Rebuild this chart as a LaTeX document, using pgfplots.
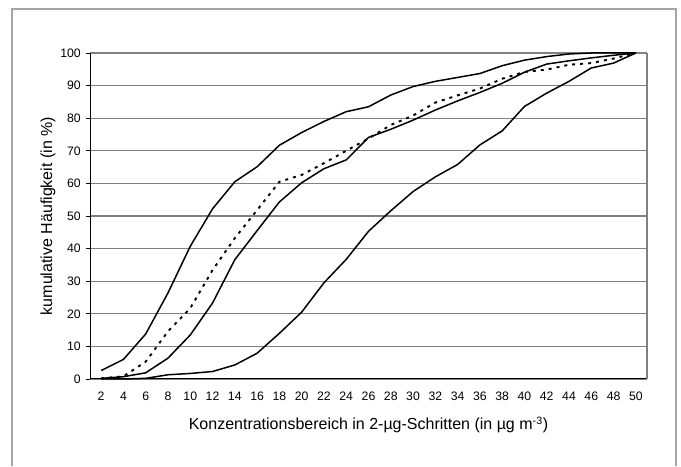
\documentclass[border=0pt]{standalone}
\usepackage{fontspec}
\setmainfont{Liberation Sans}
\usepackage{pgfplots}
\usepackage{pgfplotstable}
\pgfplotsset{compat=1.18}

\definecolor{gridgray}{RGB}{128,128,128}
\definecolor{framegray}{RGB}{165,165,165}
\newlength{\px}
\setlength{\px}{0.75pt}

% cumulative frequency (%) per 2-ug concentration step
\pgfplotstableread{
x   a     d     b     c
2   2.6   0.2   0.2   0.0
4   6.0   0.8   0.7   0.0
6   13.8  5.3   1.9   0.2
8   26.4  14.6  6.4   1.3
10  40.7  21.7  13.5  1.7
12  52.2  33.4  23.3  2.3
14  60.5  43.2  36.6  4.3
16  65.1  51.8  45.5  7.9
18  71.7  60.5  54.3  14.0
20  75.6  62.6  60.2  20.5
22  79.0  66.2  64.5  29.5
24  82.0  70.0  67.2  36.7
26  83.5  73.8  74.1  45.3
28  87.1  77.9  76.6  51.6
30  89.7  80.8  79.4  57.5
32  91.3  84.8  82.5  62.0
34  92.5  87.0  85.3  65.8
36  93.7  89.1  87.9  71.8
38  96.1  92.1  90.7  76.1
40  97.8  94.2  94.1  83.6
42  98.9  94.9  96.6  87.7
44  99.7  96.4  97.6  91.3
46  100   96.9  98.5  95.4
48  100   98.3  99.3  96.9
50  100   100   100   100
}\data

\begin{document}
\begin{tikzpicture}
\path (0,0) rectangle (681\px,466\px);
\draw[framegray, line width=1.2\px] (12\px,0) -- (12\px,457\px) -- (676\px,457\px) -- (676\px,0);
\begin{axis}[
    at={(90\px,87\px)}, anchor=south west,
    scale only axis,
    width=557\px, height=326\px,
    xmin=1, xmax=51,
    ymin=0, ymax=100,
    separate axis lines,
    axis x line*=bottom,
    axis y line*=left,
    axis line style={black, line width=1\px},
    xtick={2,4,...,50},
    minor xtick={1,3,...,51},
    ytick={0,10,...,100},
    tick align=outside,
    major tick length=4.5\px,
    minor tick length=5\px,
    xtick style={draw=none},
    minor x tick style={black, line width=0.8\px},
    ytick style={black, line width=0.8\px},
    ymajorgrids,
    major grid style={gridgray, line width=1.2\px},
    extra x ticks={51},
    extra x tick labels={},
    extra x tick style={grid=major, major grid style={gridgray, line width=1.2\px}, tick style={draw=none}},
    /pgf/number format/assume math mode=true,
    ticklabel style={font=\fontsize{9.2}{11}\selectfont},
    xticklabel style={yshift=-4\px},
    xlabel={Konzentrationsbereich in 2-µg-Schritten (in µg m\textsuperscript{-3})},
    ylabel={kumulative Häufigkeit (in \%)},
    label style={font=\fontsize{12}{14}\selectfont},
    xlabel style={at={(axis description cs:0.5,-0.141)}, anchor=center},
    ylabel style={at={(axis description cs:-0.0754,0.5)}, anchor=center},
    clip=false,
]
\addplot[black, line width=1.5\px] table[x=x, y=a] {\data};
\addplot[black, line width=1.5\px] table[x=x, y=b] {\data};
\addplot[black, line width=1.5\px] table[x=x, y=c] {\data};
\addplot[black, line width=1.9\px, dash pattern=on 3\px off 5\px] table[x=x, y=d] {\data};
\end{axis}
\end{tikzpicture}
\end{document}
